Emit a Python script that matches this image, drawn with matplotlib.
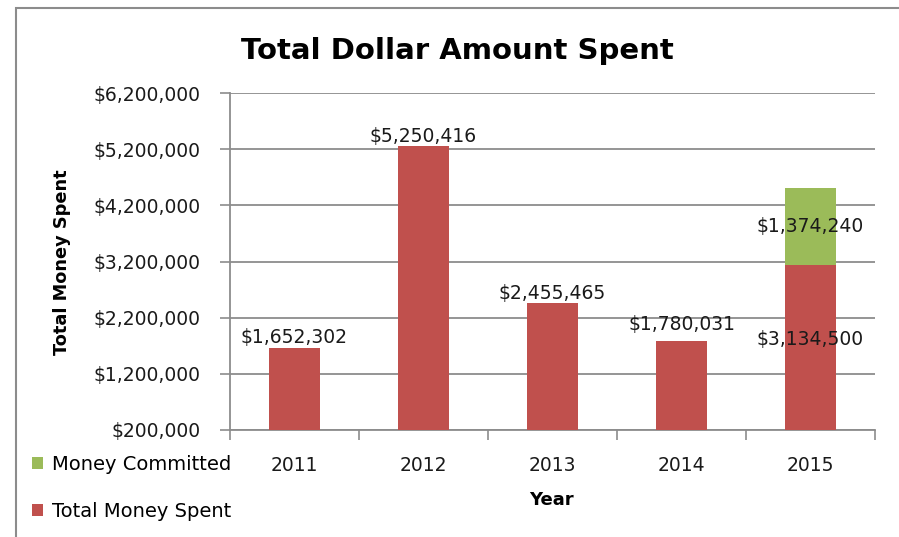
import matplotlib
matplotlib.use("Agg")
import matplotlib.pyplot as plt
from matplotlib.patches import Rectangle, Patch
import numpy as np

plt.rcParams['font.family'] = ['DejaVu Sans']

# data
years = ['2011', '2012', '2013', '2014', '2015']
spent = [1652302, 5250416, 2455465, 1780031, 3134500]
committed = [0, 0, 0, 0, 1374240]
yticks = [200000, 1200000, 2200000, 3200000, 4200000, 5200000, 6200000]

red = '#C0504D'
green = '#9BBB59'
grid = '#8C8C8C'
txt = '#1A1A1A'
base = 200000

fig = plt.figure(figsize=(8.99, 5.37), dpi=100)
ax = fig.add_axes([230/899, 1-430/537, (875-230)/899, (430-93)/537])

x = np.arange(len(years))
s = np.array(spent) - base
ax.bar(x, s, width=0.4, bottom=base, color=red, zorder=3)
c = np.array(committed)
mask = c > 0
ax.bar(x[mask], c[mask], width=0.4, bottom=np.array(spent)[mask], color=green, zorder=3)

ax.set_ylim(yticks[0], yticks[-1])
ax.set_xlim(-0.5, len(years) - 0.5)
ax.set_yticks(yticks)
ax.set_yticklabels(['${:,}'.format(v) for v in yticks], fontsize=13.5, color=txt)
ax.set_xticks(x)
ax.set_xticklabels(years, fontsize=13.5, color=txt)
ax.set_xticks(np.arange(len(years) + 1) - 0.5, minor=True)
ax.tick_params(axis='x', which='major', length=0, pad=19)
ax.tick_params(axis='x', which='minor', length=7, color=grid, width=1.2)
ax.tick_params(axis='y', length=7, color=grid, width=1.2, pad=14)
ax.yaxis.grid(True, color=grid, linewidth=1.3, zorder=0)
for sp in ['top', 'right']:
    ax.spines[sp].set_visible(False)
for sp in ['left', 'bottom']:
    ax.spines[sp].set_color(grid)
    ax.spines[sp].set_linewidth(1.3)

# value labels
offs = [8, 7, 7, 12]
for i in range(len(years)):
    if committed[i] > 0:
        ax.text(x[i], (base + spent[i]) / 2 + 150000, '${:,}'.format(spent[i]),
                ha='center', va='center', fontsize=13.5, color=txt, zorder=4)
        ax.text(x[i], spent[i] + committed[i] / 2, '${:,}'.format(committed[i]),
                ha='center', va='center', fontsize=13.5, color=txt, zorder=4)
    else:
        ax.annotate('${:,}'.format(spent[i]), (x[i], spent[i]),
                    xytext=(0, offs[i]), textcoords='offset points',
                    ha='center', va='center', fontsize=13.5, color=txt, zorder=4)

fig.text(457/899, 1-51/537, 'Total Dollar Amount Spent', ha='center', va='center',
         fontsize=21, fontweight='bold', color='black')
fig.text(62/899, 1-262/537, 'Total Money Spent', rotation=90, ha='center', va='center',
         fontsize=12.8, fontweight='bold', color='black')
fig.text(551/899, 1-500/537, 'Year', ha='center', va='center',
         fontsize=13, fontweight='bold', color='black')

handles = [Patch(facecolor=green, label='Money Committed'),
           Patch(facecolor=red, label='Total Money Spent')]
fig.legend(handles=handles, loc='upper left', bbox_to_anchor=(32/899, 1-455/537),
           frameon=False, fontsize=14, handlelength=0.55, handleheight=0.55,
           handletextpad=0.5, labelspacing=1.45, borderaxespad=0, borderpad=0)

fig.patches.append(Rectangle((16/899, -0.1), 1.2, 1 - 8/537 + 0.1, transform=fig.transFigure,
                             fill=False, edgecolor='#8C8C8C', linewidth=1.5))

fig.savefig('out.png', dpi=100)
